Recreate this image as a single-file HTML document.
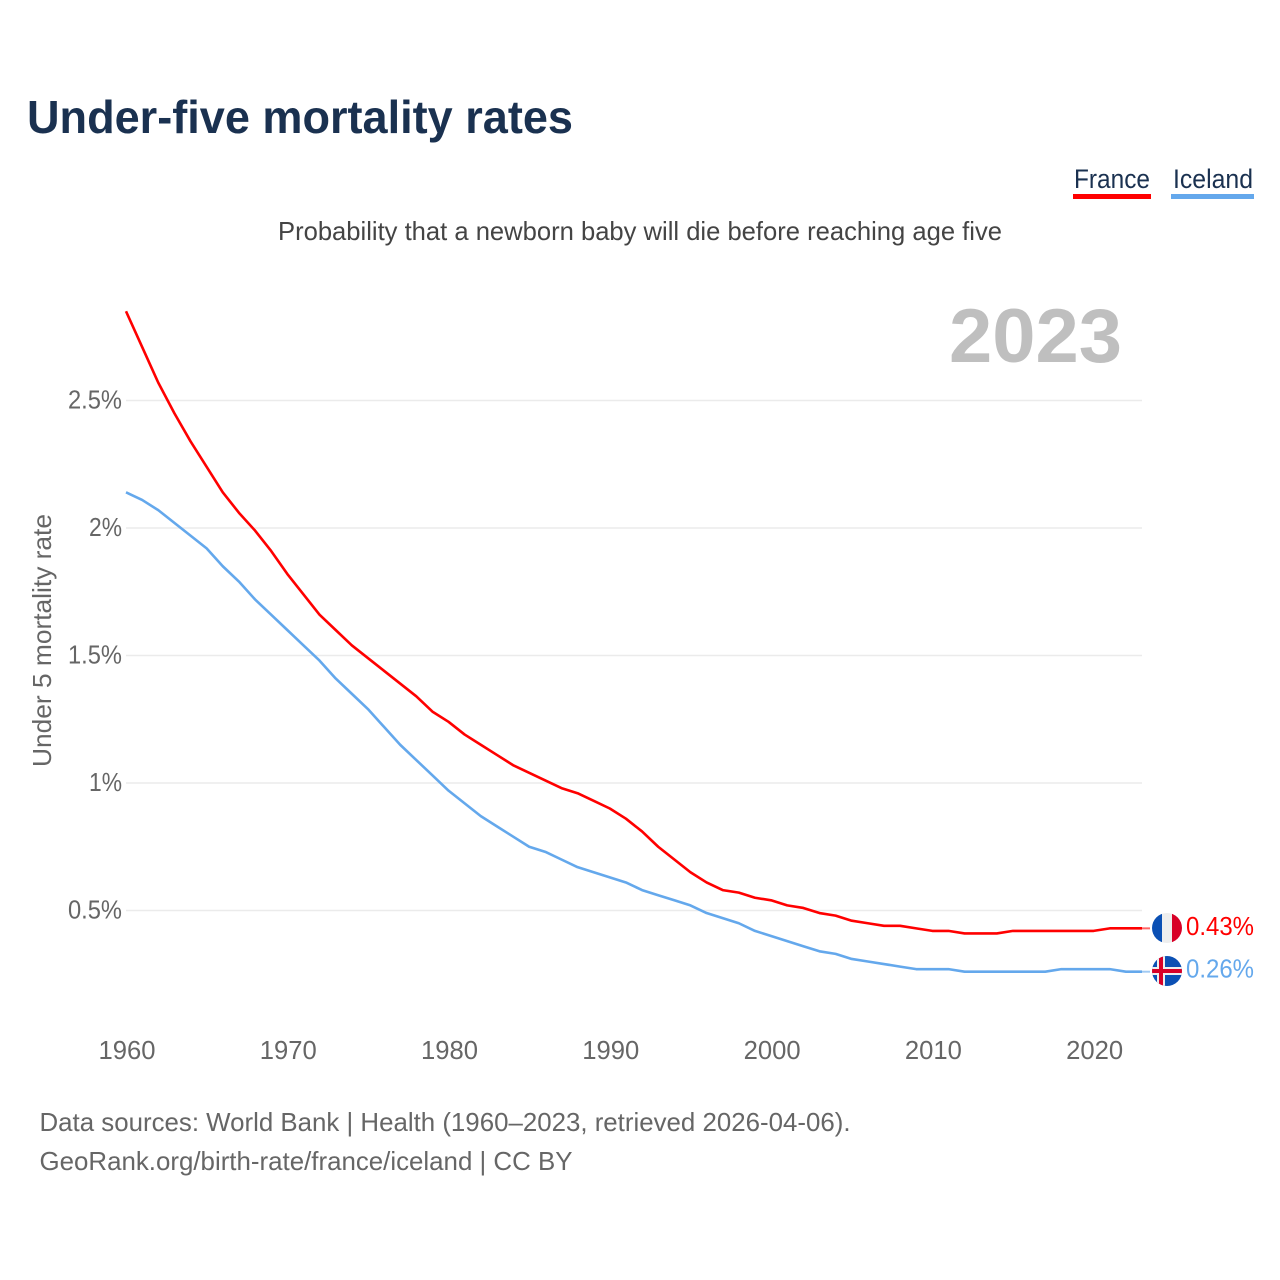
<!DOCTYPE html>
<html lang="en">
<head>
<meta charset="utf-8">
<title>Under-five mortality rates</title>
<style>
html,body{margin:0;padding:0;background:#fff;width:1280px;height:1280px;overflow:hidden}
svg{display:block;font-family:"Liberation Sans",sans-serif}
</style>
</head>
<body>
<svg id="chart" xmlns="http://www.w3.org/2000/svg" width="1280" height="1280" viewBox="0 0 1280 1280">
  <defs>
    <clipPath id="clip-fr"><circle cx="1167" cy="928" r="15"/></clipPath>
    <clipPath id="clip-is"><circle cx="1167" cy="971" r="15"/></clipPath>
  </defs>
  <rect width="1280" height="1280" fill="#fff"/>
  <text x="27" y="133" font-size="46" font-weight="700" fill="#1a3150" textLength="546" lengthAdjust="spacingAndGlyphs">Under-five mortality rates</text>
  <g>
    <text x="1074" y="188" font-size="27" fill="#1a3150" textLength="76" lengthAdjust="spacingAndGlyphs">France</text>
    <rect x="1073" y="194" width="78" height="5" fill="#ff0000"/>
  </g>
  <g>
    <text x="1173" y="188" font-size="27" fill="#1a3150" textLength="80" lengthAdjust="spacingAndGlyphs">Iceland</text>
    <rect x="1171" y="194" width="83" height="5" fill="#64a8ec"/>
  </g>
  <text x="278" y="240" font-size="26" fill="#444" textLength="724" lengthAdjust="spacingAndGlyphs">Probability that a newborn baby will die before reaching age five</text>
  <text x="949" y="362" font-size="76" font-weight="700" fill="#bfbfbf" textLength="173" lengthAdjust="spacingAndGlyphs">2023</text>
  <text transform="translate(51,767) rotate(-90)" x="0" y="0" font-size="26" fill="#666" textLength="253" lengthAdjust="spacingAndGlyphs">Under 5 mortality rate</text>
  <g id="grid"></g>
  <g id="yticks"></g>
  <g id="xticks"></g>
  <g id="series"></g>
  <g id="flag-france" clip-path="url(#clip-fr)">
    <rect x="1152" y="913" width="10" height="30" fill="#0b50b4"/>
    <rect x="1162" y="913" width="10" height="30" fill="#eeeeee"/>
    <rect x="1172" y="913" width="10" height="30" fill="#d80027"/>
  </g>
  <g id="flag-iceland" clip-path="url(#clip-is)">
    <rect x="1152" y="956" width="30" height="30" fill="#0b50b4"/>
    <rect x="1157" y="956" width="8" height="30" fill="#eeeeee"/>
    <rect x="1152" y="967" width="30" height="8" fill="#eeeeee"/>
    <rect x="1159" y="956" width="4" height="30" fill="#d80027"/>
    <rect x="1152" y="969" width="30" height="4" fill="#d80027"/>
  </g>
  <g id="end-labels"></g>
  <text x="39.5" y="1131" font-size="26" fill="#666" textLength="811" lengthAdjust="spacingAndGlyphs">Data sources: World Bank | Health (1960–2023, retrieved 2026-04-06).</text>
  <text x="39.5" y="1170" font-size="26" fill="#666" textLength="533" lengthAdjust="spacingAndGlyphs">GeoRank.org/birth-rate/france/iceland | CC BY</text>
</svg>
<script>
const years = [1960,1961,1962,1963,1964,1965,1966,1967,1968,1969,1970,1971,1972,1973,1974,1975,1976,1977,1978,1979,1980,1981,1982,1983,1984,1985,1986,1987,1988,1989,1990,1991,1992,1993,1994,1995,1996,1997,1998,1999,2000,2001,2002,2003,2004,2005,2006,2007,2008,2009,2010,2011,2012,2013,2014,2015,2016,2017,2018,2019,2020,2021,2022,2023];
const franceValues = [2.85,2.71,2.57,2.45,2.34,2.24,2.14,2.06,1.99,1.91,1.82,1.74,1.66,1.60,1.54,1.49,1.44,1.39,1.34,1.28,1.24,1.19,1.15,1.11,1.07,1.04,1.01,0.98,0.96,0.93,0.90,0.86,0.81,0.75,0.70,0.65,0.61,0.58,0.57,0.55,0.54,0.52,0.51,0.49,0.48,0.46,0.45,0.44,0.44,0.43,0.42,0.42,0.41,0.41,0.41,0.42,0.42,0.42,0.42,0.42,0.42,0.43,0.43,0.43];
const icelandValues = [2.14,2.11,2.07,2.02,1.97,1.92,1.85,1.79,1.72,1.66,1.60,1.54,1.48,1.41,1.35,1.29,1.22,1.15,1.09,1.03,0.97,0.92,0.87,0.83,0.79,0.75,0.73,0.70,0.67,0.65,0.63,0.61,0.58,0.56,0.54,0.52,0.49,0.47,0.45,0.42,0.40,0.38,0.36,0.34,0.33,0.31,0.30,0.29,0.28,0.27,0.27,0.27,0.26,0.26,0.26,0.26,0.26,0.26,0.27,0.27,0.27,0.27,0.26,0.26];
const yTickValues = [0.5,1,1.5,2,2.5];
const yTickLabels = ["0.5%","1%","1.5%","2%","2.5%"];
const xTickValues = [1960,1970,1980,1990,2000,2010,2020];
const xTickLabels = ["1960","1970","1980","1990","2000","2010","2020"];

const NS = 'http://www.w3.org/2000/svg';
const plotLeft = 126, plotRight = 1142, yZero = 1038, pxPerUnit = 255;
function xScale(year) {
  return plotLeft + (year - years[0]) / (years[years.length - 1] - years[0]) * (plotRight - plotLeft);
}
function yScale(value) {
  return yZero - value * pxPerUnit;
}
function make(tag, attrs, parent, content) {
  const el = document.createElementNS(NS, tag);
  for (const k in attrs) el.setAttribute(k, attrs[k]);
  if (content !== undefined) el.textContent = content;
  parent.appendChild(el);
  return el;
}

const grid = document.getElementById('grid');
const yticks = document.getElementById('yticks');
yTickValues.forEach((v, i) => {
  const line = make('line', {x1: plotLeft, x2: plotRight, y1: yScale(v), y2: yScale(v), stroke: '#ebebeb', 'stroke-width': 1.5}, grid);
  
  
  const label = yTickLabels[i];
  const t = make('text', {x: 122, y: yScale(v) + 8, 'font-size': 26, fill: '#666', 'text-anchor': 'end', textLength: label.length === 4 ? 54 : 33, lengthAdjust: 'spacingAndGlyphs'}, yticks, label);
  
  
});

const xticks = document.getElementById('xticks');
xTickValues.forEach((v, i) => {
  const t = make('text', {x: xScale(v) + 1, y: 1059, 'font-size': 26, fill: '#666', 'text-anchor': 'middle', textLength: 57, lengthAdjust: 'spacingAndGlyphs'}, xticks, xTickLabels[i]);
  
  
});

function linePath(values) {
  return values.map((v, i) => (i ? 'L' : 'M') + xScale(years[i]).toFixed(2) + ' ' + yScale(v).toFixed(2)).join(' ');
}
const seriesGroup = document.getElementById('series');
const endLabels = document.getElementById('end-labels');

const franceLine = make('path', {d: linePath(franceValues), fill: 'none', stroke: '#ff0000', 'stroke-width': 2.6, 'stroke-linejoin': 'round'}, seriesGroup);


const icelandLine = make('path', {d: linePath(icelandValues), fill: 'none', stroke: '#64a8ec', 'stroke-width': 2.6, 'stroke-linejoin': 'round'}, seriesGroup);



const franceLast = franceValues[franceValues.length - 1];
const icelandLast = icelandValues[icelandValues.length - 1];

const franceLeader = make('line', {x1: plotRight, x2: 1150, y1: yScale(franceLast), y2: yScale(franceLast), stroke: '#ff0000', 'stroke-width': 2, opacity: 0.6}, seriesGroup);


const icelandLeader = make('line', {x1: plotRight, x2: 1150, y1: yScale(icelandLast), y2: yScale(icelandLast), stroke: '#64a8ec', 'stroke-width': 2, opacity: 0.6}, seriesGroup);



const franceLabel = make('text', {x: 1186, y: yScale(franceLast) + 6.5, 'font-size': 26, fill: '#ff0000', textLength: 68, lengthAdjust: 'spacingAndGlyphs'}, endLabels, franceLast.toFixed(2) + '%');


const icelandLabel = make('text', {x: 1186, y: yScale(icelandLast) + 6, 'font-size': 26, fill: '#64a8ec', textLength: 68, lengthAdjust: 'spacingAndGlyphs'}, endLabels, icelandLast.toFixed(2) + '%');


</script>
</body>
</html>
